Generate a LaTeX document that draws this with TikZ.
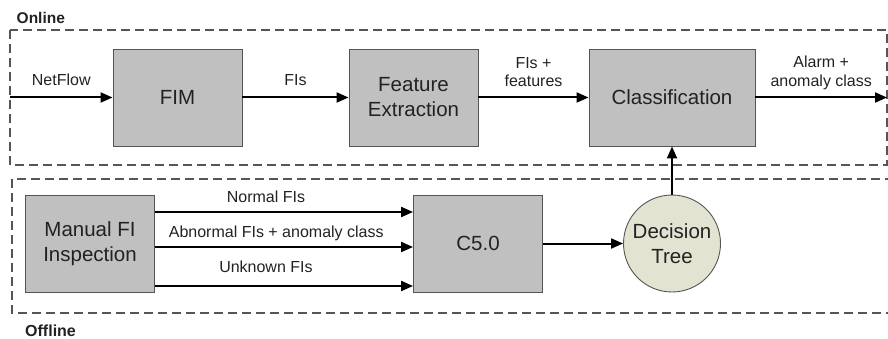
\documentclass[tikz,border=0pt]{standalone}
\usepackage{fontspec}
\setmainfont{Liberation Sans}
\usetikzlibrary{arrows.meta}
\definecolor{boxgray}{HTML}{C0C0C0}
\definecolor{treefill}{HTML}{E2E3D1}
\definecolor{edgegray}{HTML}{555555}
\definecolor{textgray}{HTML}{222222}

\begin{document}
\begin{tikzpicture}[x=1pt, y=-1pt, node distance=236pt,
  >={Triangle[length=12pt,width=10pt]},
  every node/.style={text=textgray, align=center},
  block/.style={rectangle, draw=edgegray, fill=boxgray, line width=0.9pt, minimum width=129pt, minimum height=97pt, inner sep=0pt, font=\fontsize{20.5}{25}\selectfont},
  lbl/.style={inner sep=0pt, font=\fontsize{16}{18.5}\selectfont},
  flow/.style={->, line width=2pt},
  area/.style={draw=edgegray, line width=1.5pt, dash pattern=on 9pt off 5pt}]
  \useasboundingbox (0,0) rectangle (888,339);
  % dashed areas
  \draw[area] (10,30) rectangle (887,165);
  \draw[area] (12,179) rectangle (900,313);
  \node[anchor=base west, inner sep=0pt, font=\bfseries\fontsize{15.5}{18}\selectfont] (online) at (16.5,23.5) {Online};
  \node[anchor=base west, inner sep=0pt, font=\bfseries\fontsize{16}{18}\selectfont] (offline) at (25,336) {Offline};

  % online part
  \node[block] (fim) at (177.5,97.5) {FIM};
  \node[block] (feat) [right of=fim] {Feature\\Extraction};
  \node[block, minimum width=166pt] (class) [right of=feat, xshift=22.5pt] {Classification};
  \coordinate (in) at (10,97.5);
  \coordinate (out) at (887,97.5);

  % offline part
  \node[block] (manual) at (90,243.5) {Manual FI\\Inspection};
  \node[block] (c50) [right of=manual, xshift=152pt] {C5.0};
  \node[block, circle, fill=treefill, minimum size=97pt] (tree) [right of=c50, xshift=-42pt] {Decision\\Tree};

  \draw[flow] (in) -- node[lbl, above=10.4pt] {NetFlow} (fim);
  \draw[flow] (fim) -- node[lbl, above=10.4pt] {FIs} (feat);
  \draw[flow] (feat) -- node[lbl, above=9.4pt] {FIs +\\features} (class);
  \draw[flow] (class) -- node[lbl, above=7pt] {Alarm +\\anomaly class} (out);
  \draw[flow] ([yshift=31.5pt]manual.east) -- node[lbl, above=8.4pt, pos=0.43] {Normal FIs} ([yshift=31.5pt]c50.west);
  \draw[flow] ([yshift=-3.5pt]manual.east) -- node[lbl, above=5pt, pos=0.47] {Abnormal FIs + anomaly class} ([yshift=-3.5pt]c50.west);
  \draw[flow] ([yshift=-42.5pt]manual.east) -- node[lbl, above=12pt, pos=0.43] {Unknown FIs} ([yshift=-42.5pt]c50.west);
  \draw[flow] (c50) -- (tree);
  \draw[flow] (tree) -- (class);
\end{tikzpicture}
\end{document}
